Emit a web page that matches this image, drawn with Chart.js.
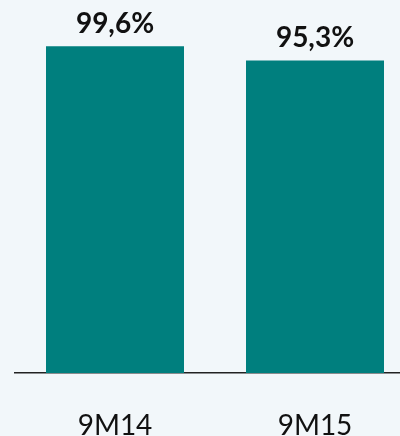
<!DOCTYPE html>
<html>
<head>
<meta charset="utf-8">
<script src="https://cdn.jsdelivr.net/npm/chart.js@4"></script>
<style>
    html, body { margin: 0; padding: 0; overflow: hidden; background: #f2f7fa; }
    #wrap { position: relative; width: 415px; height: 436px; }
</style>
</head>
<body>
<div id="wrap"><canvas id="chart"></canvas></div>
<script>
// Periods and the share for each one (percent)
const periods = ['9M14', '9M15'];
const shares = [99.6, 95.3];

// Writes the value above each bar, with a comma as decimal separator
const valueLabels = {
    id: 'valueLabels',
    afterDatasetsDraw(chart) {
        const ctx = chart.ctx;
        const meta = chart.getDatasetMeta(0);
        ctx.save();
        ctx.font = 'bold 28px Lato, "Open Sans", sans-serif';
        ctx.fillStyle = '#111';
        ctx.textAlign = 'center';
        ctx.textBaseline = 'alphabetic';
        meta.data.forEach((bar, i) => {
            const text = shares[i].toFixed(1).replace('.', ',') + '%';
            ctx.fillText(text, bar.x, bar.y - 13);
        });
        ctx.restore();
    }
};

new Chart(document.getElementById('chart'), {
    type: 'bar',
    data: {
        labels: periods,
        datasets: [{
            data: shares,
            backgroundColor: '#007f7e',
            barPercentage: 0.69,
            categoryPercentage: 1
        }]
    },
    options: {
        responsive: true,
        maintainAspectRatio: false,
        animation: false,
        layout: { padding: { top: 45, left: 15, right: 0, bottom: 0 } },
        plugins: {
            legend: { display: false },
            tooltip: { enabled: false }
        },
        scales: {
            x: {
                // fixed band under the bars for the period names
                afterFit(scale) { scale.height = 63; },
                grid: { display: false, drawTicks: false },
                border: { display: true, color: '#222', width: 1.5 },
                ticks: {
                    color: '#111',
                    padding: 36,
                    font: { family: 'Lato, "Open Sans", sans-serif', size: 28 }
                }
            },
            y: {
                display: false,
                min: 0,
                max: 100
            }
        }
    },
    plugins: [valueLabels]
});
</script>
</body>
</html>
